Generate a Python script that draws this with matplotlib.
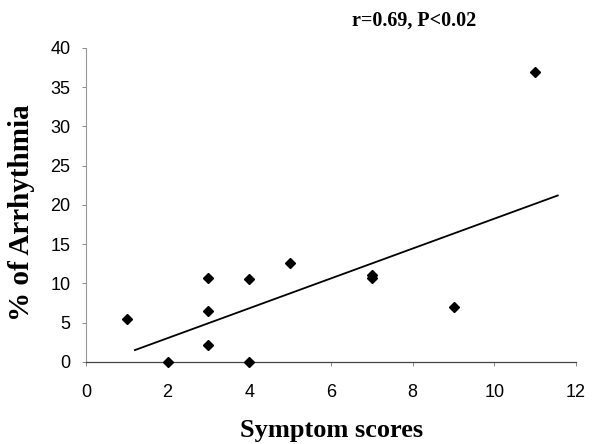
import matplotlib
matplotlib.use("Agg")
import matplotlib.pyplot as plt

# data
symptom_scores = [1, 2, 3, 3, 3, 4, 4, 5, 7, 7, 9, 11]
arrhythmia_pct = [5.5, 0, 10.7, 6.5, 2.1, 10.6, 0, 12.6, 11.1, 10.7, 7.0, 36.9]
trend_x = [1.2, 11.55]
trend_y = [1.5, 21.2]
x_ticks = [0, 2, 4, 6, 8, 10, 12]
y_ticks = [0, 5, 10, 15, 20, 25, 30, 35, 40]

fig = plt.figure(figsize=(6.09, 4.44), dpi=100)
ax = fig.add_axes([0.141, 0.185, 0.805, 0.707])

ax.plot(symptom_scores, arrhythmia_pct, linestyle='none', marker='D',
        markersize=5.6, color='black', clip_on=False, zorder=3)
ax.plot(trend_x, trend_y, color='black', linewidth=1.3, zorder=2)

ax.set_xlim(0, 12)
ax.set_ylim(0, 40)
ax.set_xticks(x_ticks)
ax.set_yticks(y_ticks)

for s in ['top', 'right']:
    ax.spines[s].set_visible(False)
ax.spines['left'].set_color('#999999')
ax.spines['left'].set_linewidth(0.8)
ax.spines['bottom'].set_color('#444444')
ax.spines['bottom'].set_linewidth(0.9)
ax.tick_params(axis='both', direction='out', length=3, width=0.7,
               color='#888888', labelsize=13)
ax.tick_params(axis='x', pad=13)
ax.tick_params(axis='y', pad=8)
for lab in ax.get_xticklabels() + ax.get_yticklabels():
    lab.set_fontfamily('Liberation Sans')

fig.text(0.544, 0.030, 'Symptom scores', fontfamily='Liberation Serif',
         fontweight='bold', fontsize=19, ha='center', va='center')
fig.text(0.036, 0.520, '% of Arrhythmia', fontfamily='Liberation Serif',
         fontweight='bold', fontsize=21, ha='center', va='center',
         rotation=90)
fig.text(0.680, 0.953, 'r=0.69, P<0.02', fontfamily='Liberation Serif',
         fontweight='bold', fontsize=14.5, ha='center', va='center')

fig.savefig('out.png', dpi=100)
